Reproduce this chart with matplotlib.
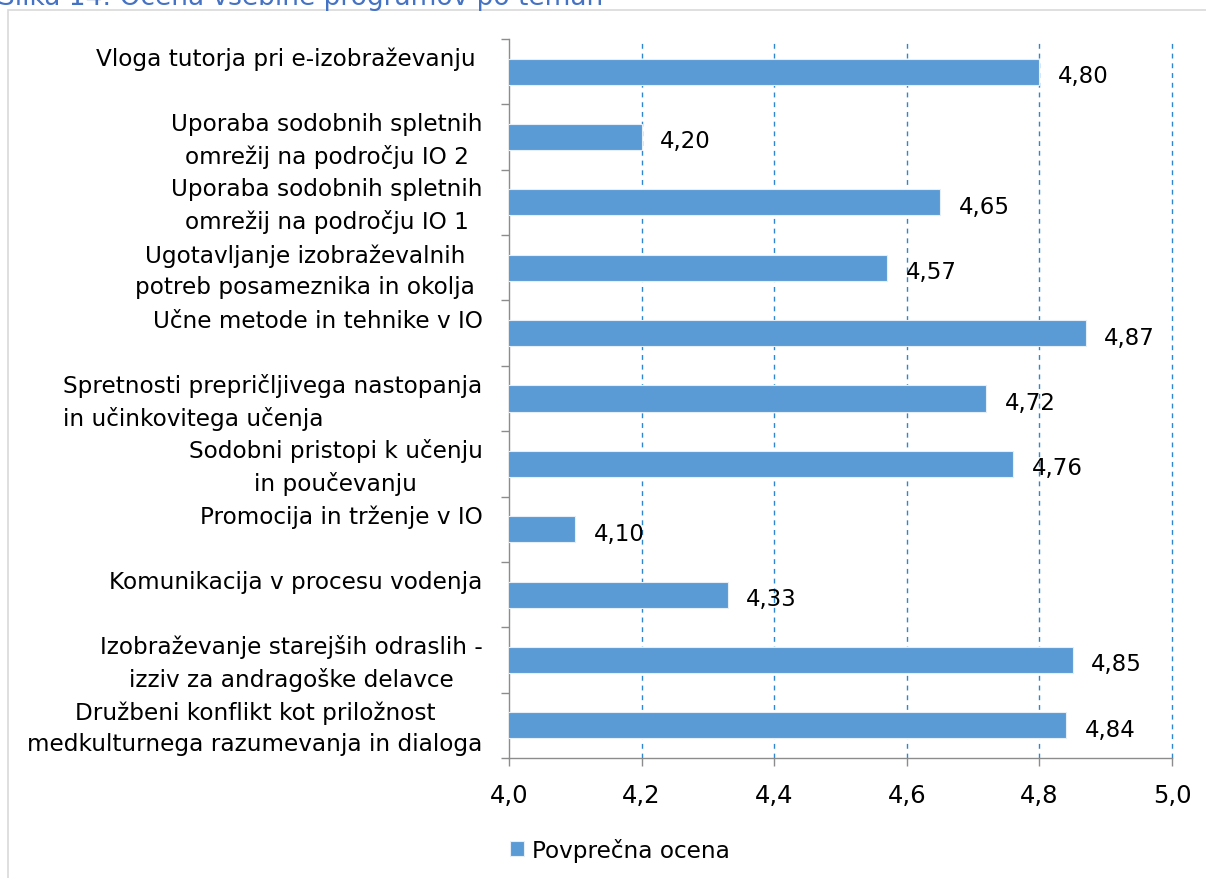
import matplotlib
matplotlib.use("Agg")
import numpy as np
import matplotlib.pyplot as plt
from matplotlib.patches import Rectangle
from matplotlib.transforms import ScaledTranslation

# teme od zgoraj navzdol, kot v Excelu
teme = [
    "Vloga tutorja pri e-izobraževanju \n ",
    "Uporaba sodobnih spletnih\nomrežij na področju IO 2",
    "Uporaba sodobnih spletnih\nomrežij na področju IO 1",
    "Ugotavljanje izobraževalnih \npotreb posameznika in okolja ",
    "Učne metode in tehnike v IO\n ",
    "Spretnosti prepričljivega nastopanja\nin učinkovitega učenja",
    "Sodobni pristopi k učenju\nin poučevanju",
    "Promocija in trženje v IO\n ",
    "Komunikacija v procesu vodenja\n ",
    "Izobraževanje starejših odraslih -\nizziv za andragoške delavce",
    "Družbeni konflikt kot priložnost\nmedkulturnega razumevanja in dialoga",
]
ocene = [4.80, 4.20, 4.65, 4.57, 4.87, 4.72, 4.76, 4.10, 4.33, 4.85, 4.84]
x_ticks = [4.0, 4.2, 4.4, 4.6, 4.8, 5.0]
serija = "Povprečna ocena"

plt.rcParams['font.family'] = ['DejaVu Sans']
fs_cat = 16.7
fs_num = 17.5
fs_val = 16.5

fig = plt.figure(figsize=(12.06, 8.79), dpi=100)
ax = fig.add_axes([509/1206, 1-759/879, (1172-509)/1206, (759-40)/879])

# okvir grafa in odrezan napis
fig.patches.append(Rectangle((8/1206, -0.1), 1.2, 1-11/879+0.1, transform=fig.transFigure,
                             fill=False, edgecolor='#D9D9D9', linewidth=1.2))
fig.text(-0.002, 1-5/879, "Slika 14: Ocena vsebine programov po temah", color='#4472C4',
         fontsize=19, va='baseline', ha='left')

y = np.arange(len(teme))
ax.barh(y, ocene, left=0, height=0.4, color='#5B9BD5', edgecolor='#E6EEF7', linewidth=0.8,
        label=serija, zorder=3)
for yi, v in zip(y, ocene):
    ax.text(v + 0.028, yi + 0.06, f"{v:.2f}".replace('.', ','), va='center', ha='left',
            fontsize=fs_val, zorder=4)

ax.set_xlim(4.0, 5.0)
ax.set_ylim(len(teme) - 0.5, -0.5)
ax.set_xticks(x_ticks)
ax.set_xticklabels([f"{t:.1f}".replace('.', ',') for t in x_ticks], fontsize=fs_num)
ax.set_yticks(y)
ax.set_yticklabels(teme, fontsize=fs_cat, multialignment='center', linespacing=1.45)
ax.set_yticks(np.arange(len(teme) + 1) - 0.5, minor=True)
ax.tick_params(axis='y', which='major', length=0, pad=19)
ax.tick_params(axis='y', which='minor', length=6, color='#8C8C8C', width=1)
ax.tick_params(axis='x', length=6, color='#8C8C8C', width=1, pad=12)

# oznake kategorij malo višje
premik = ScaledTranslation(0, 0.04, fig.dpi_scale_trans)
for lbl in ax.get_yticklabels():
    lbl.set_transform(lbl.get_transform() + premik)
    if lbl.get_text().startswith("Spretnosti"):
        lbl.set_multialignment('left')

for t in x_ticks[1:]:
    ax.axvline(t, color='#2E86D1', linestyle=(0, (3.5, 3.5)), linewidth=1.0, zorder=1,
               clip_on=False)

for s in ['top', 'right']:
    ax.spines[s].set_visible(False)
for s in ['left', 'bottom']:
    ax.spines[s].set_color('#8C8C8C')
    ax.spines[s].set_linewidth(1)

fig.legend(loc='center', bbox_to_anchor=(620/1206, 1-851/879), frameon=False, fontsize=fs_cat,
           handlelength=0.6, handleheight=0.6, handletextpad=0.35)

fig.savefig("out.png", dpi=100)
